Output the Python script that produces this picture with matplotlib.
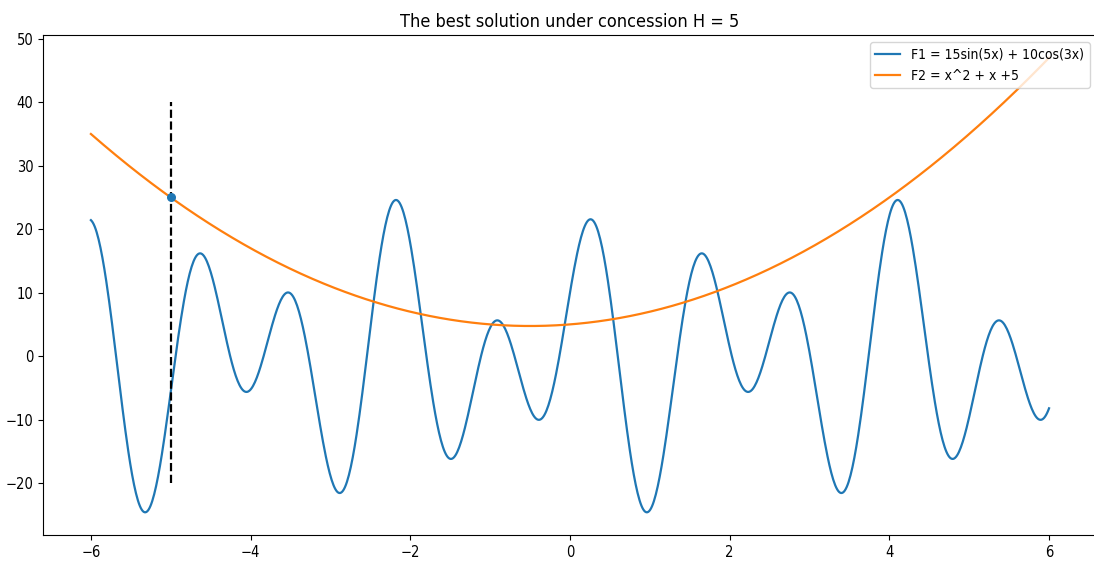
import numpy as np
import matplotlib
matplotlib.use('Agg')
import matplotlib.pyplot as plt

plt.rcParams['font.stretch'] = 'condensed'

# curves exactly as given in the legend
x_min, x_max = -6, 6
f1_label = 'F1 = 15sin(5x) + 10cos(3x)'
f2_label = 'F2 = x^2 + x +5'
concession_h = 5

# chosen solution and marker line
best_x = -5
best_y = 25
vline_ymin, vline_ymax = -20, 40

x = np.linspace(x_min, x_max, 1000)
f1 = 15 * np.sin(5 * x) + 10 * np.cos(3 * x)
f2 = x ** 2 + x + 5

fig = plt.figure(figsize=(10.94, 5.63), dpi=100)
ax = fig.add_axes([0.0393, 0.0497, 0.9634, 0.888])

ax.plot(x, f1, label=f1_label, color='#1f77b4', linewidth=1.6)
ax.plot(x, f2, label=f2_label, color='#ff7f0e', linewidth=1.6)
ax.vlines(best_x, vline_ymin, vline_ymax, linestyles='dashed', colors='black', linewidth=1.6)
ax.scatter([best_x], [best_y], color='#1f77b4', s=30, zorder=3)

ax.set_title('The best solution under concession H = %d' % concession_h, fontsize=13)
ax.tick_params(labelsize=10.5)
ax.legend(loc='upper right', fontsize=10, handlelength=1.8)

fig.savefig('out.png', dpi=100)
